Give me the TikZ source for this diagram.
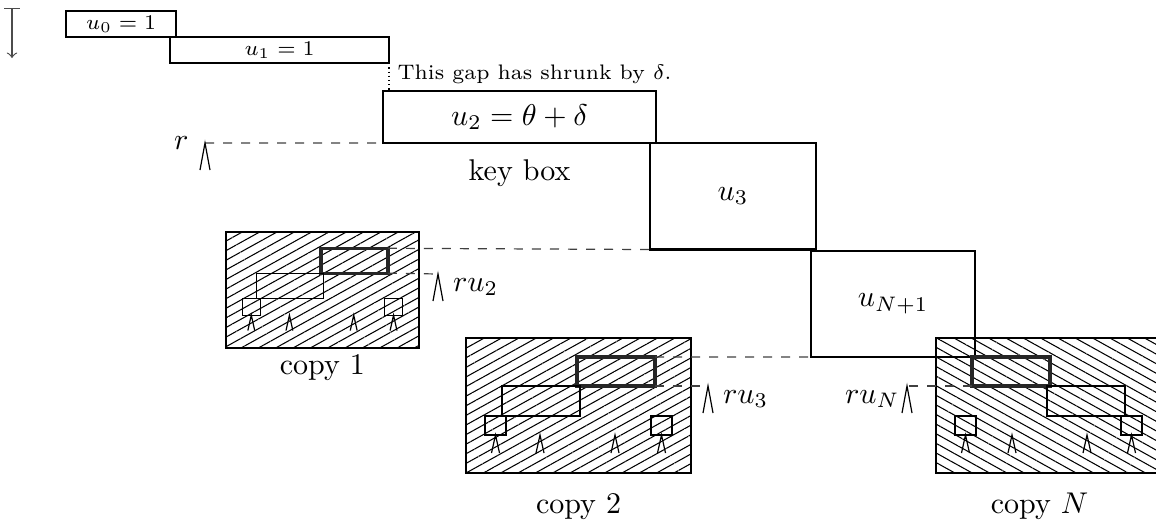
\documentclass[tikz,border=0pt]{standalone}
\usepackage{amsmath}
\usepackage{tikz}
\usetikzlibrary{positioning,patterns.meta}

\begin{document}
\begin{tikzpicture}[x=0.3333pt,y=-0.3333pt,
    ubox/.style={draw,line width=0.7pt,inner sep=0pt,outer sep=0pt,anchor=north west},
    gapline/.style={black!75,dashed},
    wedgemark/.pic={\draw (-5,27)--(0,0)--(5,27);},
    pics/boxcopy/.style={code={
      \draw[semithick,pattern={Lines[angle=#1,distance=2.8pt,line width=0.35pt]}] (0,0) rectangle (225,135);
      \draw[line width=1.1pt,black!85] (111,19) rectangle (189,48);
      \draw (36,48) rectangle (114,78);
      \draw (19,78) rectangle (40,97);
      \draw (185,78) rectangle (206,97);
      \foreach \px in {29.5,74,149,195.5}
        \draw (\px,97) ++(-4,18) -- (\px,97) -- ++(4,18);
      \coordinate (-top) at (189,19);
      \coordinate (-bot) at (189,48);
      \coordinate (-south) at (112.5,135);
    }}]
          \useasboundingbox (0,0) rectangle (1156,520);
          \coordinate (arrtop) at (12,8);
          \coordinate (arrbot) at (12,58);
          \draw[black!70,|->] (arrtop) -- (arrbot);
          \node[ubox,minimum width=36.7pt,minimum height=8.7pt,font=\scriptsize] (u0) at (66,11) {$u_0=1$};
          \node[ubox,minimum width=73pt,minimum height=8.7pt,font=\scriptsize] (u1) at (170,37) {$u_1=1$};
          \node[ubox,minimum width=91pt,minimum height=17.3pt] (u2) at (383,91) {$u_2=\theta+\delta$};
          \node[ubox,minimum width=55.3pt,minimum height=35.5pt] (u3) at (650,143) {$u_3$};
          \node[ubox,minimum width=54.7pt,minimum height=35.3pt] (uN1) at (811,251) {$u_{N+1}$};
          \draw[densely dotted] (u1.south east) -- (u1.south east |- u2.north);
          \node[anchor=base west,inner sep=0pt,font=\scriptsize] (gapnote) at (397,79) {This gap has shrunk by $\delta$.};
          \node[below=5.5pt of u2.south,inner sep=0pt] (keylabel) {key box};
          \coordinate (rtip) at (205,143);
          \draw[gapline] (rtip) -- (u2.south west);
          \pic at (rtip) {wedgemark};
          \node[left=2pt of rtip] (rlabel) {$r$};
          \pic[scale=0.857] (c1) at (226,232) {boxcopy=29};
          \pic (c2) at (466,338) {boxcopy=29};
          \pic[xscale=-1] (cN) at (1161,338) {boxcopy=-29};
          \coordinate (ru2tip) at (438,274);
          \coordinate (ru3tip) at (708,386);
          \coordinate (ruNtip) at (907,386);
          \draw[gapline] (c1-top) -- (u3.south west);
          \draw[gapline] (c1-bot) -- (ru2tip);
          \draw[gapline] (c2-top) -- (uN1.south west);
          \draw[gapline] (c2-bot) -- (ru3tip);
          \draw[gapline] (cN-bot) -- (ruNtip);
          \pic at (ru2tip) {wedgemark};
          \pic at (ru3tip) {wedgemark};
          \pic at (ruNtip) {wedgemark};
          \node[right=1.5pt of ru2tip,yshift=-4.3pt] (ru2label) {$ru_2$};
          \node[right=1.5pt of ru3tip,yshift=-4.3pt] (ru3label) {$ru_3$};
          \node[left=-1pt of ruNtip,yshift=-4.3pt] (ruNlabel) {$ru_N$};
          \node[below=2pt of c1-south,inner sep=0pt] (c1label) {copy 1};
          \node[below=6.5pt of c2-south,inner sep=0pt] (c2label) {copy 2};
          \node[below=6.5pt of cN-south,inner sep=0pt,xshift=-3pt] (cNlabel) {copy $N$};
        \end{tikzpicture}
\end{document}
